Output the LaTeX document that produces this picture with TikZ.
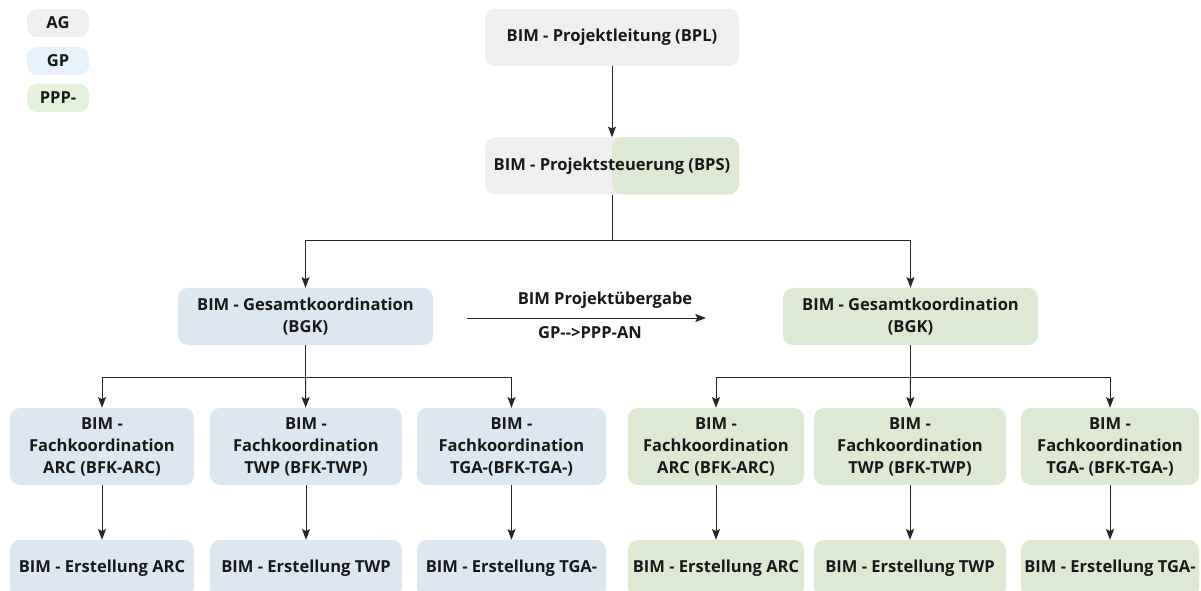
\documentclass[tikz,border=0pt]{standalone}
\usepackage{fontspec}
\setmainfont{Open Sans}
\usetikzlibrary{arrows.meta}

\definecolor{agGray}{HTML}{EFEFEF}
\definecolor{gpBlue}{HTML}{DCE7F1}
\definecolor{pppGreen}{HTML}{DDE9D2}
\definecolor{legBlue}{HTML}{E6F1FB}
\definecolor{legGreen}{HTML}{E5F2DB}

\tikzset{
  box/.style={rounded corners=7.5pt, align=center, inner sep=0pt,
    font=\fontsize{12.4}{16.5}\selectfont\bfseries, text=black!90},
  legend/.style={box, minimum width=46.5pt, minimum height=21pt},
  link/.style={draw=black!85, line width=0.75pt,
    -{Stealth[length=8pt,width=6pt,inset=1.5pt]}},
  wire/.style={draw=black!85, line width=0.75pt}
}

\begin{document}
\begin{tikzpicture}[x=0.75pt,y=-0.75pt]
\useasboundingbox[fill=white] (0,0) rectangle (1201,591);

% Legend
\node[legend, fill=agGray] (legAG) at (58,23) {AG};
\node[legend, fill=legBlue] (legGP) at (58,61) {GP};
\node[legend, fill=legGreen] (legPPP) at (58,98) {PPP-};

% Top
\node[box, fill=agGray, minimum width=190.5pt, minimum height=42.75pt] (bpl) at (612,37.5) {BIM - Projektleitung (BPL)};
\node[box, fill=agGray, minimum width=190.5pt, minimum height=42.75pt,
  path picture={\fill[pppGreen] (path picture bounding box.north) rectangle (path picture bounding box.south east);}]
  (bps) at (612,166) {BIM - Projektsteuerung (BPS)};
\draw[link] (bpl) -- (bps);

% Gesamtkoordination
\node[box, fill=gpBlue, minimum width=191.25pt, minimum height=42.75pt] (bgkL) at (305.5,316.5) {BIM - Gesamtkoordination\\(BGK)};
\node[box, fill=pppGreen, minimum width=191.25pt, minimum height=42.75pt] (bgkR) at (910.5,316.5) {BIM - Gesamtkoordination\\(BGK)};
\coordinate (forkTop) at (612,241);
\draw[wire] (bps) -- (forkTop);
\draw[link] (forkTop) -| (bgkL);
\draw[link] (forkTop) -| (bgkR);

% Uebergabe
\coordinate (handA) at (467,318);
\coordinate (handB) at (706,318);
\draw[link] (handA) -- (handB);
\node[box] (handTop) at (605,300) {BIM Projektübergabe};
\node[box] (handBot) at (590,333) {GP-{}->PPP-AN};

% Fachkoordination GP
\node[box, fill=gpBlue, minimum width=138pt, minimum height=57.75pt] (fkL1) at (102,446.5) {BIM -\\Fachkoordination\\ARC (BFK-ARC)};
\node[box, fill=gpBlue, minimum width=144pt, minimum height=57.75pt] (fkL2) at (306,446.5) {BIM -\\Fachkoordination\\TWP (BFK-TWP)};
\node[box, fill=gpBlue, minimum width=141.75pt, minimum height=57.75pt] (fkL3) at (511.5,446.5) {BIM -\\Fachkoordination\\TGA-(BFK-TGA-)};
\coordinate (forkL) at (305.5,377);
\draw[wire] (bgkL) -- (forkL);
\draw[link] (forkL) -| (fkL1);
\draw[link] (forkL) -- (fkL2);
\draw[link] (forkL) -| (fkL3);

% Fachkoordination PPP
\node[box, fill=pppGreen, minimum width=132pt, minimum height=57.75pt] (fkR1) at (716,446.5) {BIM -\\Fachkoordination\\ARC (BFK-ARC)};
\node[box, fill=pppGreen, minimum width=144pt, minimum height=57.75pt] (fkR2) at (910,446.5) {BIM -\\Fachkoordination\\TWP (BFK-TWP)};
\node[box, fill=pppGreen, minimum width=133.5pt, minimum height=57.75pt] (fkR3) at (1110,446.5) {BIM -\\Fachkoordination\\TGA- (BFK-TGA-)};
\coordinate (forkR) at (910.5,377);
\draw[wire] (bgkR) -- (forkR);
\draw[link] (forkR) -| (fkR1);
\draw[link] (forkR) -- (fkR2);
\draw[link] (forkR) -| (fkR3);

% Erstellung
\node[box, fill=gpBlue, minimum width=138pt, minimum height=42.75pt] (erL1) at (102,568.5) {BIM - Erstellung ARC};
\node[box, fill=gpBlue, minimum width=144pt, minimum height=42.75pt] (erL2) at (306,568.5) {BIM - Erstellung TWP};
\node[box, fill=gpBlue, minimum width=141.75pt, minimum height=42.75pt] (erL3) at (511.5,568.5) {BIM - Erstellung TGA-};
\node[box, fill=pppGreen, minimum width=132pt, minimum height=42.75pt] (erR1) at (716,568.5) {BIM - Erstellung ARC};
\node[box, fill=pppGreen, minimum width=144pt, minimum height=42.75pt] (erR2) at (910,568.5) {BIM - Erstellung TWP};
\node[box, fill=pppGreen, minimum width=133.5pt, minimum height=42.75pt] (erR3) at (1110,568.5) {BIM - Erstellung TGA-};
\foreach \i in {L1,L2,L3,R1,R2,R3}
  \draw[link] (fk\i) -- (er\i);
\end{tikzpicture}
\end{document}
